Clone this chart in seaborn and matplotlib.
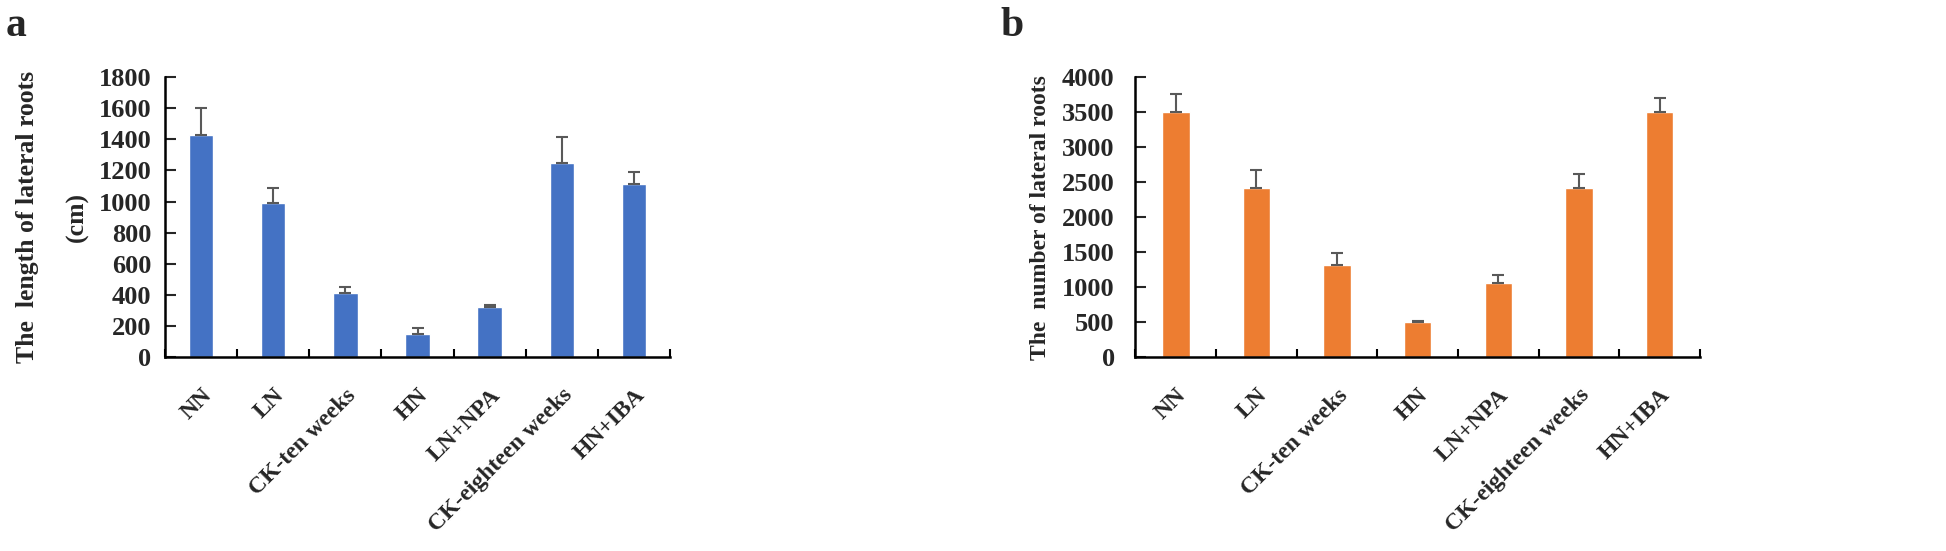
import numpy as np
import pandas as pd
import matplotlib
matplotlib.use("Agg")
import matplotlib.pyplot as plt
import seaborn as sns

# ── Data ──────────────────────────────────────────────────────────────────────

treatments = ["NN", "LN", "CK-ten weeks", "HN", "LN+NPA",
              "CK-eighteen weeks", "HN+IBA"]
root_length = [1430, 990, 410, 150, 320, 1245, 1110]
root_length_err = [170, 95, 40, 35, 15, 170, 80]
root_number = [3500, 2410, 1320, 500, 1060, 2410, 3500]
root_number_err = [260, 265, 170, 20, 110, 200, 200]

sns.set_style("ticks")
plt.rcParams["font.family"] = ["Liberation Serif", "DejaVu Serif"]
plt.rcParams["font.weight"] = "bold"


def draw_panel(ax, values, errors, color, ymax, ystep, ylabel,
               ytick_pad, label_x, label_size):
    df = pd.DataFrame({"treatment": treatments, "value": values})
    sns.barplot(data=df, x="treatment", y="value", color=color,
                width=0.34, saturation=1, errorbar=None, ax=ax)
    # one-sided (upper) error bars, Excel style
    xs = [p.get_x() + p.get_width() / 2 for p in ax.patches]
    ax.errorbar(xs, values, yerr=[np.zeros(len(values)), errors],
                fmt="none", ecolor="#595959", elinewidth=1.5,
                capsize=4, capthick=1.5)
    ax.set_xlim(-0.5, len(treatments) - 0.5)
    ax.set_ylim(0, ymax)
    ax.set_yticks(np.arange(0, ymax + 1, ystep))
    ax.set_xticks(np.arange(-0.5, len(treatments), 1.0), minor=True)
    ax.tick_params(axis="x", which="major", length=0, pad=20)
    ax.tick_params(axis="x", which="minor", direction="in", length=6,
                   width=1.5, color="black")
    ax.tick_params(axis="y", direction="in", length=8, width=1.5,
                   labelsize=19, pad=ytick_pad)
    ax.set_xticklabels(treatments, rotation=45, ha="right", va="top",
                       rotation_mode="anchor", fontsize=17, fontweight="bold")
    for lab in ax.get_yticklabels():
        lab.set_fontweight("bold")
    ax.set_xlabel("")
    ax.set_ylabel(ylabel, fontsize=label_size, fontweight="bold",
                  linespacing=2.5)
    ax.yaxis.set_label_coords(label_x, 0.5)
    sns.despine(ax=ax)
    for side in ("left", "bottom"):
        ax.spines[side].set_linewidth(1.8)
        ax.spines[side].set_color("black")


fig = plt.figure(figsize=(19.46, 5.51), dpi=100)
ax_a = fig.add_axes([0.0848, 0.352, 0.2595, 0.508])
ax_b = fig.add_axes([0.5835, 0.352, 0.2900, 0.508])

draw_panel(ax_a, root_length, root_length_err, "#4472C4", 1800, 200,
           "The  length of lateral roots\n(cm)", 10, -0.150, 18.5)
draw_panel(ax_b, root_number, root_number_err, "#ED7D31", 4000, 500,
           "The  number of lateral roots", 15, -0.150, 17)

fig.text(0.003, 0.935, "a", fontsize=30, fontweight="bold", va="baseline")
fig.text(0.514, 0.935, "b", fontsize=30, fontweight="bold", va="baseline")

fig.savefig("out.png", dpi=100)
plt.close(fig)
